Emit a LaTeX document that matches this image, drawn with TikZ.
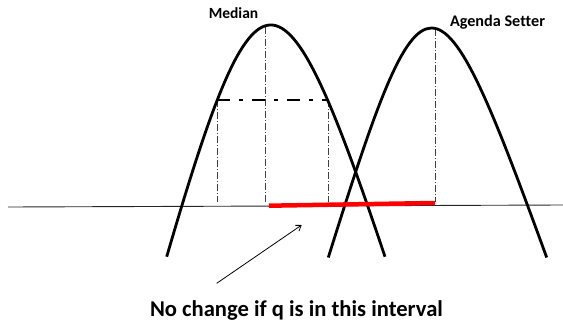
\documentclass[tikz,border=0pt]{standalone}
\usepackage{fontspec}
\setmainfont{Carlito}[Ligatures=NoCommon]
\usetikzlibrary{arrows.meta}
\begin{document}
\begin{tikzpicture}[x=1pt,y=-1pt,
  curve/.style={line width=2.8pt,black},
  guide/.style={line width=0.8pt,black!75,dash pattern=on 7pt off 2pt on 1pt off 2pt},
  level/.style={line width=2.6pt,black,dash pattern=on 13pt off 9pt on 4pt off 9pt},
  axis/.style={line width=0.9pt,black!85},
  interval/.style={line width=4.5pt,red},
  lbl/.style={font=\bfseries,anchor=base,inner sep=0pt}]
\useasboundingbox (0,0) rectangle (563,322);
% axis
\coordinate (axL) at (8,207);
\coordinate (axR) at (563,205);
\draw[axis] (axL) -- (axR);
% guides
\coordinate (m1t) at (217,100); \coordinate (m1b) at (217,202);
\coordinate (m2t) at (265,27);  \coordinate (m2b) at (265,203);
\coordinate (m3t) at (328,100); \coordinate (m3b) at (328,202);
\coordinate (a1t) at (435,29);  \coordinate (a1b) at (435,202);
\draw[guide] (m1t) -- (m1b);
\draw[guide] (m2t) -- (m2b);
\draw[guide] (m3t) -- (m3b);
\draw[guide] (a1t) -- (a1b);
% level line
\draw[level] (m1t) -- (m3t);
% curves
\coordinate (mL) at (166.7,256.7); \coordinate (mR) at (385,256.7);
\coordinate (aL) at (328.3,257.5); \coordinate (aR) at (546.7,257.5);
\draw[curve] (mL) .. controls (256.8,-52.3) and (281.4,-52.3) .. (mR);
\draw[curve] (aL) .. controls (424.1,-48.5) and (435.1,-48.5) .. (aR);
% interval
\coordinate (iL) at (269,205.7); \coordinate (iR) at (435,203);
\draw[interval] (iL) -- (iR);
% labels
\node[lbl,font=\bfseries\fontsize{15.5}{18}\selectfont] (median) at (233.5,18.3) {Median};
\node[lbl,font=\bfseries\fontsize{16.2}{19}\selectfont] (agenda) at (497.5,26) {Agenda Setter};
\node[lbl,font=\bfseries\fontsize{22.6}{26}\selectfont] (note) at (296.5,316.7) {No change if q is in this interval};
% arrow
\coordinate (arT) at (216.7,283.3); \coordinate (arH) at (301.7,225);
\draw[line width=0.8pt,-{Straight Barb[length=5pt,width=7pt]}] (arT) -- (arH);
\end{tikzpicture}
\end{document}
